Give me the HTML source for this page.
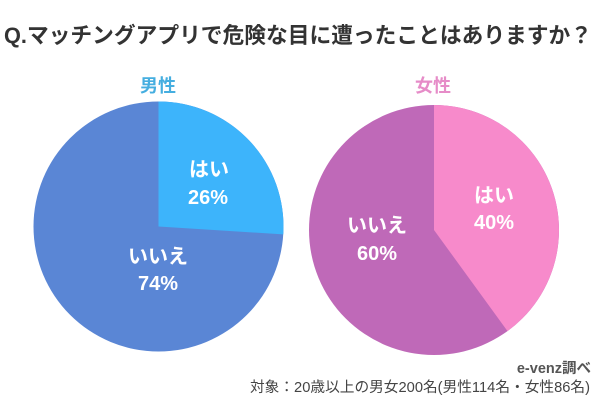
<!DOCTYPE html>
<html>
<head>
<meta charset="utf-8">
<style>
  html,body{margin:0;padding:0;background:#fff;}
  svg{display:block;}
  text{font-family:"Liberation Sans","Noto Sans CJK JP",sans-serif;}
</style>
</head>
<body>
<svg width="600" height="400" viewBox="0 0 600 400" xmlns="http://www.w3.org/2000/svg">
  <rect width="600" height="400" fill="#ffffff"/>
  <!-- Title -->
  <text x="4" y="43" font-size="22" font-weight="bold" fill="#333333" textLength="588" lengthAdjust="spacingAndGlyphs">Q.マッチングアプリで危険な目に遭ったことはありますか？</text>

  <!-- Sub titles -->
  <text x="158" y="92" font-size="18" font-weight="bold" fill="#45aee0" text-anchor="middle">男性</text>
  <text x="433" y="92" font-size="18" font-weight="bold" fill="#e68cc8" text-anchor="middle">女性</text>

  <!-- Male pie -->
  <circle cx="158.5" cy="226.5" r="125" fill="#5a86d5"/>
  <path d="M158.5,226.5 L158.5,101.5 A125,125 0 0 1 283.25,234.35 Z" fill="#3db4fb"/>
  <g font-size="20" font-weight="bold" fill="#ffffff" text-anchor="middle" dominant-baseline="central">
    <text x="209" y="170">はい</text>
    <text x="208" y="198">26%</text>
    <text x="158" y="257">いいえ</text>
    <text x="158" y="284">74%</text>
  </g>

  <!-- Female pie -->
  <circle cx="434" cy="230" r="125" fill="#bf69b8"/>
  <path d="M434,230 L434,105 A125,125 0 0 1 507.5,331.1 Z" fill="#f78acb"/>
  <g font-size="20" font-weight="bold" fill="#ffffff" text-anchor="middle" dominant-baseline="central">
    <text x="494" y="196">はい</text>
    <text x="494" y="223">40%</text>
    <text x="377" y="226">いいえ</text>
    <text x="377" y="254">60%</text>
  </g>

  <!-- Footer -->
  <text x="591" y="373" font-size="14.5" font-weight="bold" fill="#555555" text-anchor="end">e-venz調べ</text>
  <text x="590" y="392" font-size="14.5" fill="#444444" text-anchor="end" textLength="340" lengthAdjust="spacingAndGlyphs">対象：20歳以上の男女200名(男性114名・女性86名)</text>
</svg>
</body>
</html>
